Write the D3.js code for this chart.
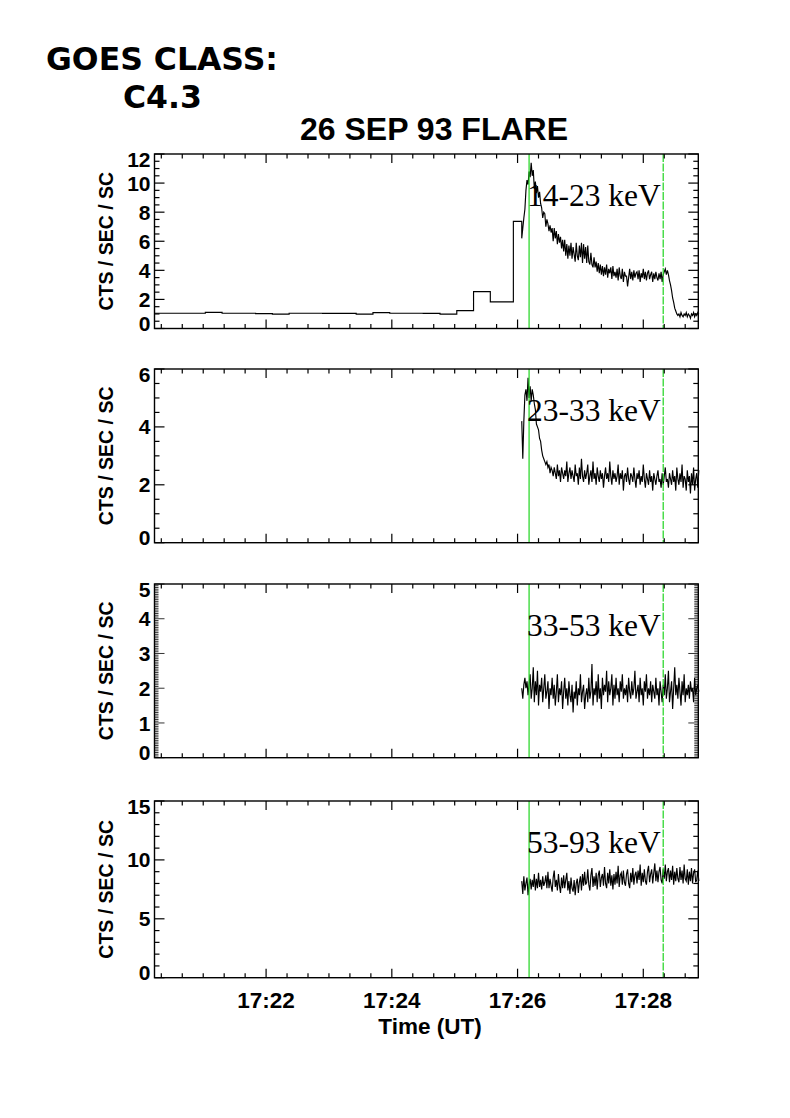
<!DOCTYPE html>
<html><head><meta charset="utf-8">
<script src="https://cdn.jsdelivr.net/npm/d3@7"></script>
<style>body{margin:0;background:#fff}svg{display:block}</style>
</head><body>
<svg id="c" width="790" height="1118"></svg>
<script>
// ---------------- DATA (time in seconds after 17:20:00 UT) ----------------
const histEdges14_23 = [14, 30, 46, 62, 78, 94, 110, 126, 142, 158, 174, 190, 206, 222, 238, 254, 270, 286, 302, 318, 334, 356, 364];
const histValues14_23 = [1.05, 1.05, 1.05, 1.11, 1.05, 1.05, 1.02, 0.99, 1.05, 1.05, 1.04, 1.04, 0.99, 1.09, 1.05, 1.05, 1.04, 0.99, 1.23, 2.54, 1.83, 7.37];

const fineStart = 364;   // 17:26:04
const fineStep = 1;      // seconds

const series14_23 = [
 6.2, 6.9, 7.6, 8.2, 9.5, 10.2, 9.9, 10.8, 10.4, 11.4,
 10.5, 10.9, 9.6, 10.1, 9.3, 9.8, 9.0, 9.4, 8.6, 8.3,
 7.6, 8.0, 7.9, 7.0, 7.5, 7.2, 6.7, 7.1, 6.6, 6.9,
 6.0, 6.9, 6.2, 6.7, 5.8, 6.5, 5.9, 6.3, 5.5, 6.1,
 5.3, 6.1, 5.0, 5.8, 4.8, 5.7, 5.0, 5.9, 4.8, 5.6,
 5.1, 4.6, 5.9, 5.0, 4.7, 5.7, 4.9, 5.9, 4.5, 5.8,
 4.8, 5.6, 4.5, 5.7, 4.6, 4.4, 5.2, 4.4, 4.2, 4.9,
 4.2, 4.6, 3.9, 4.5, 3.8, 4.4, 3.7, 4.3, 3.6, 4.2,
 3.7, 4.4, 3.5, 4.1, 3.8, 4.2, 3.4, 4.3, 3.6, 3.9,
 3.5, 4.1, 3.3, 4.2, 3.6, 3.4, 4.1, 3.2, 3.9, 3.6,
 3.6, 2.9, 3.5, 4.1, 3.4, 3.9, 3.3, 4.0, 3.5, 3.8,
 3.9, 3.4, 4.0, 3.2, 3.8, 3.5, 4.1, 3.4, 3.9, 3.3,
 3.8, 4.0, 3.4, 3.7, 3.9, 3.2, 3.8, 3.4, 3.9, 3.5,
 3.3, 3.8, 3.4, 3.9, 3.2, 3.7, 3.9, 4.1, 3.7, 4.0,
 3.7, 3.3, 3.0, 2.6, 2.1, 1.8, 1.4, 1.2, 1.0, 0.9,
 1.0, 0.8, 1.1, 0.9, 0.8, 1.0, 0.9, 1.1, 0.8, 1.0,
 0.9, 0.7, 1.0, 0.9, 1.1, 0.8, 1.0, 0.9, 1.1, 1.0
];
const series23_33 = [
 4.2, 2.9, 4.2, 5.1, 5.3, 4.9, 5.7, 5.0, 5.4, 4.9,
 5.3, 5.1, 4.8, 4.6, 4.1, 4.0, 3.9, 3.6, 3.5, 3.2,
 3.0, 2.9, 2.8, 2.7, 2.8, 2.6, 2.7, 2.4, 2.6, 2.5,
 2.3, 2.6, 2.4, 2.2, 2.7, 2.3, 2.5, 2.1, 2.6, 2.4,
 2.2, 2.5, 2.3, 2.8, 2.1, 2.4, 2.6, 2.2, 2.5, 2.3,
 2.1, 2.7, 2.3, 2.4, 2.0, 2.6, 2.2, 2.9, 2.3, 2.1,
 2.5, 2.2, 2.4, 2.7, 2.0, 2.3, 2.5, 2.1, 2.8, 2.2,
 2.4, 2.0, 2.6, 2.3, 2.1, 2.5, 2.2, 2.4, 1.9, 2.3,
 2.6, 2.2, 2.4, 2.1, 2.8, 2.3, 2.0, 2.5, 2.2, 2.4,
 2.1, 2.3, 2.7, 2.0, 2.4, 2.2, 2.5, 1.8, 2.3, 2.4,
 2.1, 2.6, 2.2, 2.0, 2.4, 2.3, 2.1, 2.6, 2.2, 1.9,
 2.4, 2.2, 2.5, 2.0, 2.3, 2.1, 2.7, 2.2, 1.9, 2.4,
 2.2, 2.0, 2.5, 2.1, 2.3, 1.8, 2.4, 2.2, 2.0, 2.3,
 2.5, 2.1, 2.2, 1.9, 2.4, 2.0, 2.3, 2.6, 2.1, 2.2,
 1.9, 2.4, 2.2, 2.0, 2.5, 2.1, 2.3, 1.8, 2.6, 2.2,
 2.0, 2.4, 2.1, 2.7, 1.9, 2.3, 2.2, 1.8, 2.5, 2.1,
 2.3, 1.7, 2.4, 2.0, 2.6, 1.8, 2.2, 2.4, 1.9, 2.5
];
const series33_53 = [
 2.0, 1.7, 2.1, 2.3, 2.0, 2.2, 1.8, 2.1, 2.4, 1.7,
 2.0, 2.6, 1.6, 2.2, 1.8, 2.5, 1.5, 2.1, 1.9, 2.3,
 1.6, 2.0, 2.4, 1.7, 1.9, 2.2, 1.4, 2.0, 1.8, 2.3,
 1.7, 2.1, 1.5, 1.9, 2.4, 1.6, 2.0, 1.8, 2.2, 1.4,
 1.9, 2.3, 1.7, 2.0, 1.5, 2.2, 1.8, 1.6, 2.1, 1.3,
 1.9, 1.7, 2.2, 1.5, 2.0, 1.8, 2.4, 1.6, 1.9, 2.1,
 1.4, 1.8, 2.0, 1.6, 2.3, 1.7, 1.9, 2.7, 1.5, 2.0,
 1.8, 2.2, 1.6, 2.4, 1.7, 2.0, 1.4, 2.3, 1.8, 2.1,
 1.9, 2.5, 1.6, 2.2, 1.8, 2.0, 2.4, 1.5, 2.1, 1.7,
 2.3, 1.8, 2.0, 1.6, 2.2, 1.9, 2.4, 1.7, 2.0, 1.8,
 2.1, 1.6, 2.3, 1.9, 1.7, 2.2, 1.8, 2.0, 2.5, 1.7,
 1.9, 2.1, 1.6, 2.3, 1.8, 2.0, 1.5, 2.2, 1.9, 2.4,
 1.7, 2.0, 1.8, 2.2, 1.6, 2.1, 1.9, 1.7, 2.3, 1.8,
 2.0, 1.5, 2.2, 1.9, 1.6, 2.1, 1.8, 2.4, 1.7, 2.0,
 2.5, 1.6, 1.9, 2.2, 1.4, 2.0, 2.6, 1.8, 2.1, 1.7,
 2.3, 1.9, 1.5, 2.2, 1.8, 2.4, 1.6, 2.0, 1.8, 2.1,
 1.7, 2.2, 1.9, 2.0, 1.6, 2.3, 1.8, 2.0, 2.1, 1.9
];
const series53_93 = [
 8.2, 7.1, 8.6, 7.4, 8.0, 8.5, 7.0, 7.9, 8.4, 7.5,
 8.3, 7.7, 8.8, 7.4, 8.4, 7.6, 8.9, 7.7, 8.3, 7.5,
 8.6, 7.8, 8.1, 8.7, 7.6, 9.0, 7.6, 8.4, 7.8, 7.3,
 8.5, 9.1, 7.7, 8.3, 7.4, 8.8, 7.8, 7.2, 8.5, 7.6,
 8.7, 7.6, 8.3, 8.9, 7.4, 8.2, 7.1, 8.5, 7.6, 7.3,
 8.3, 7.0, 8.0, 8.4, 7.2, 8.1, 8.6, 7.4, 8.8, 7.8,
 9.0, 7.9, 8.1, 9.2, 7.9, 7.4, 8.7, 9.3, 7.7, 8.6,
 7.8, 8.9, 7.5, 8.7, 9.1, 7.7, 8.5, 8.8, 7.8, 9.4,
 8.0, 7.6, 8.9, 8.0, 9.2, 7.8, 8.7, 7.5, 8.8, 7.9,
 9.0, 8.0, 9.5, 7.7, 8.7, 8.9, 7.9, 9.1, 8.1, 7.8,
 8.8, 9.2, 8.0, 7.6, 8.9, 8.1, 9.3, 7.9, 8.7, 9.0,
 8.0, 9.1, 8.3, 9.6, 7.8, 8.9, 8.1, 9.2, 8.2, 7.9,
 9.0, 9.5, 8.1, 8.8, 9.2, 8.0, 8.9, 9.7, 8.2, 9.1,
 8.1, 9.0, 9.4, 8.3, 8.0, 9.2, 8.4, 9.6, 8.2, 9.0,
 9.3, 8.1, 9.1, 8.3, 9.5, 7.9, 9.0, 8.2, 9.3, 8.4,
 8.1, 9.4, 8.3, 9.1, 8.0, 9.6, 8.4, 8.2, 9.2, 7.9,
 9.0, 8.2, 9.3, 8.0, 8.9, 9.2, 8.1, 8.3, 9.1, 8.2
];

const energyLabels = ["14-23 keV", "23-33 keV", "33-53 keV", "53-93 keV"];
const yMaxes = [12, 6, 5, 15];
const yMajorSteps = [2, 2, 1, 5];
const yMinorSteps = [0.5, 0.5, 0.05, 1];
const xTickValues = [120, 240, 360, 480];          // seconds after 17:20:00
const xTickLabels = ["17:22", "17:24", "17:26", "17:28"];
const markerSolid = 371;   // 17:26:11
const markerDashed = 499;  // 17:28:19
const titleText = "26 SEP 93 FLARE";
const goesLines = ["GOES CLASS:", "C4.3"];
const yTitle = "CTS / SEC / SC";
const xTitle = "Time (UT)";

// ---------------- LAYOUT ----------------
const X0 = 154.5, X1 = 698.3;
const frames = [
  {top: 154, h: 174.5},
  {top: 369, h: 173.7},
  {top: 584, h: 173.7},
  {top: 801, h: 176.7}
];
const sans = "'Liberation Sans', Arial, Helvetica, sans-serif";
const serif = "'Liberation Serif', 'Times New Roman', serif";

const svg = d3.select("#c");
const x = d3.scaleLinear().domain([13.5, 532.5]).range([X0, X1]);

const allFine = [series14_23, series23_33, series33_53, series53_93];

// Header texts
svg.append("text").attr("x", 46).attr("y", 70)
  .attr("font-family", "'DejaVu Sans', sans-serif").attr("font-weight", "bold")
  .attr("font-size", 31.5).text(goesLines[0]);
svg.append("text").attr("x", 123).attr("y", 108)
  .attr("font-family", "'DejaVu Sans', sans-serif").attr("font-weight", "bold")
  .attr("font-size", 31.5).text(goesLines[1]);
svg.append("text").attr("x", 434).attr("y", 140).attr("text-anchor", "middle")
  .attr("font-family", sans).attr("font-weight", "bold")
  .attr("font-size", 32).text(titleText);

const xMinor = d3.range(20, 532, 20);

frames.forEach((f, i) => {
  const g = svg.append("g");
  const bottom = f.top + f.h;
  const y = d3.scaleLinear().domain([0, yMaxes[i]]).range([bottom, f.top]);

  // data
  let pts = [];
  if (i === 0) {
    histValues14_23.forEach((v, k) => {
      pts.push([histEdges14_23[k], v]);
      pts.push([histEdges14_23[k + 1], v]);
    });
  }
  allFine[i].forEach((v, k) => pts.push([fineStart + k * fineStep, v]));
  g.append("path")
    .attr("d", d3.line().x(d => x(d[0])).y(d => y(d[1]))(pts))
    .attr("fill", "none").attr("stroke", "#000").attr("stroke-width", 1.15)
    .attr("stroke-linejoin", "miter");

  // green markers
  g.append("line").attr("x1", x(markerSolid)).attr("x2", x(markerSolid))
    .attr("y1", f.top).attr("y2", bottom)
    .attr("stroke", "#1ed41e").attr("stroke-width", 1.2);
  g.append("line").attr("x1", x(markerDashed)).attr("x2", x(markerDashed))
    .attr("y1", f.top).attr("y2", bottom)
    .attr("stroke", "#1ed41e").attr("stroke-width", 1.2)
    .attr("stroke-dasharray", "8,1.5");

  // frame
  g.append("rect").attr("x", X0).attr("y", f.top)
    .attr("width", X1 - X0).attr("height", f.h)
    .attr("fill", "none").attr("stroke", "#000").attr("stroke-width", 1.4);

  // x ticks top and bottom (inward)
  g.selectAll(null).data(xMinor).join("line")
    .attr("x1", d => x(d)).attr("x2", d => x(d))
    .attr("y1", bottom).attr("y2", d => bottom - (d % 120 === 0 ? 9 : 4.5))
    .attr("stroke", "#000").attr("stroke-width", 1.2);
  g.selectAll(null).data(xMinor).join("line")
    .attr("x1", d => x(d)).attr("x2", d => x(d))
    .attr("y1", f.top).attr("y2", d => f.top + (d % 120 === 0 ? 9 : 4.5))
    .attr("stroke", "#000").attr("stroke-width", 1.2);

  // y ticks left and right (inward)
  const nMin = Math.round(yMaxes[i] / yMinorSteps[i]);
  const ratio = Math.round(yMajorSteps[i] / yMinorSteps[i]);
  const yt = d3.range(0, nMin + 1).map(k => ({v: k * yMinorSteps[i], major: k % ratio === 0}));
  const minorLen = i === 2 ? 4 : 5;
  g.selectAll(null).data(yt).join("line")
    .attr("x1", X0).attr("x2", d => X0 + (d.major ? 10 : minorLen))
    .attr("y1", d => y(d.v)).attr("y2", d => y(d.v))
    .attr("stroke", "#000").attr("stroke-width", i === 2 ? 0.8 : 1.2);
  g.selectAll(null).data(yt).join("line")
    .attr("x1", X1).attr("x2", d => X1 - (d.major ? 10 : minorLen))
    .attr("y1", d => y(d.v)).attr("y2", d => y(d.v))
    .attr("stroke", "#000").attr("stroke-width", i === 2 ? 0.8 : 1.2);

  // y labels
  const majors = yt.filter(d => d.major);
  g.selectAll(null).data(majors).join("text")
    .attr("x", X0 - 4)
    .attr("y", (d, k) => y(d.v) + (k === 0 ? -5 : (k === majors.length - 1 ? 5 : 0)))
    .attr("dy", "0.36em")
    .attr("text-anchor", "end")
    .attr("font-family", sans).attr("font-weight", "bold").attr("font-size", 21)
    .text(d => d3.format("d")(d.v));

  // y title
  const cy = f.top + f.h / 2;
  g.append("text").attr("transform", `translate(113,${cy}) rotate(-90)`)
    .attr("text-anchor", "middle")
    .attr("font-family", sans).attr("font-weight", "bold").attr("font-size", 19.5)
    .text(yTitle);

  // energy label
  g.append("text").attr("x", 527).attr("y", f.top + 52)
    .attr("font-family", serif).attr("font-size", 31.5).attr("fill", "#000")
    .text(energyLabels[i]);

  // x labels on last panel
  if (i === frames.length - 1) {
    g.selectAll(null).data(xTickValues).join("text")
      .attr("x", d => x(d)).attr("y", 1008)
      .attr("text-anchor", "middle")
      .attr("font-family", sans).attr("font-weight", "bold").attr("font-size", 22.5)
      .text((d, k) => xTickLabels[k]);
    g.append("text").attr("x", 430).attr("y", 1034)
      .attr("text-anchor", "middle")
      .attr("font-family", sans).attr("font-weight", "bold").attr("font-size", 22.5)
      .text(xTitle);
  }
});
</script>
</body></html>
